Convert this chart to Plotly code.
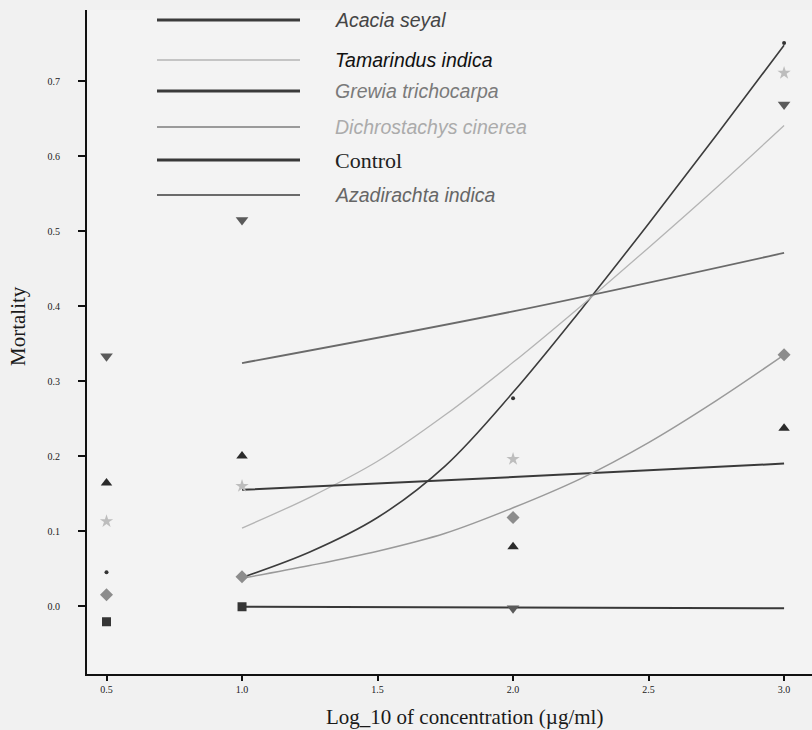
import plotly.graph_objects as go

# ---------------- data ----------------
species = ["Acacia seyal", "Tamarindus indica", "Grewia trichocarpa",
           "Dichrostachys cinerea", "Control", "Azadirachta indica"]

log_conc = [0.5, 1.0, 2.0, 3.0]

acacia_obs = [0.045, None, 0.277, 0.751]
tamarindus_obs = [0.113, 0.160, 0.196, 0.711]
grewia_obs = [0.164, 0.200, 0.079, 0.237]
dichro_obs = [0.015, 0.039, 0.118, 0.335]
control_obs = [-0.021, -0.001, None, None]
azadirachta_obs = [0.333, 0.515, -0.003, 0.669]

fit_x = [1.0, 1.25, 1.5, 1.75, 2.0, 2.25, 2.5, 2.75, 3.0]
acacia_fit = [0.038, 0.072, 0.118, 0.187, 0.285, 0.395, 0.510, 0.628, 0.748]
tamarindus_fit = [0.104, 0.145, 0.193, 0.255, 0.325, 0.400, 0.478, 0.558, 0.641]
dichro_fit = [0.037, 0.054, 0.073, 0.097, 0.131, 0.170, 0.218, 0.274, 0.335]

line_x = [1.0, 2.0, 3.0]
grewia_fit = [0.155, 0.172, 0.190]
control_fit = [-0.001, -0.002, -0.003]
azadirachta_fit = [0.324, 0.393, 0.471]

x_ticks = [0.5, 1.0, 1.5, 2.0, 2.5, 3.0]
x_tick_labels = ["0.5", "1.0", "1.5", "2.0", "2.5", "3.0"]
y_ticks = [0.0, 0.1, 0.2, 0.3, 0.4, 0.5, 0.6, 0.7]
y_tick_labels = ["0.0", "0.1", "0.2", "0.3", "0.4", "0.5", "0.6", "0.7"]

# ---------------- styles ----------------
obs = [acacia_obs, tamarindus_obs, grewia_obs, dichro_obs, control_obs, azadirachta_obs]
fits = [(fit_x, acacia_fit), (fit_x, tamarindus_fit), (line_x, grewia_fit),
        (fit_x, dichro_fit), (line_x, control_fit), (line_x, azadirachta_fit)]
line_colors = ["#3c3c3c", "#b4b4b4", "#3a3a3a", "#9a9a9a", "#383838", "#6a6a6a"]
line_widths = [1.6, 1.3, 2.0, 1.5, 2.0, 1.8]
leg_widths = [3.0, 1.5, 2.8, 1.8, 2.8, 2.2]
marker_symbols = ["circle", "star", "triangle-up", "diamond", "square", "triangle-down"]
marker_sizes = [4, 10, 10, 10, 9, 11]
marker_colors = ["#333333", "#bdbdbd", "#2a2a2a", "#8c8c8c", "#353535", "#5a5a5a"]
text_colors = ["#454545", "#111111", "#7a7a7a", "#ababab", "#222222", "#666666"]
text_italic = [True, True, True, True, False, True]
leg_y_px = [20, 60, 91, 127, 160, 195]

fig = go.Figure()
for i, name in enumerate(species):
    fx, fy = fits[i]
    fig.add_trace(go.Scatter(
        x=fx, y=fy, mode="lines", name=name, showlegend=False,
        line=dict(color=line_colors[i], width=line_widths[i], shape="spline", smoothing=1.0),
        hoverinfo="skip"))
for i, name in enumerate(species):
    fig.add_trace(go.Scatter(
        x=log_conc, y=obs[i], mode="markers", name=name, showlegend=False,
        marker=dict(symbol=marker_symbols[i], size=marker_sizes[i],
                    color=marker_colors[i], line=dict(width=0))))

W, H = 812, 730
ml, mr, mt, mb = 87, 0, 10, 56
pw, ph = W - ml - mr, H - mt - mb


def px_x(px):
    return (px - ml) / pw


def px_y(py):
    return 1 - (py - mt) / ph


shapes = []
annotations = []
for i, name in enumerate(species):
    yy = px_y(leg_y_px[i])
    shapes.append(dict(type="line", xref="paper", yref="paper",
                       x0=px_x(157), x1=px_x(300), y0=yy, y1=yy,
                       line=dict(color=line_colors[i], width=leg_widths[i])))
    txt = f"<i>{name}</i>" if text_italic[i] else name
    annotations.append(dict(
        xref="paper", yref="paper", x=px_x(333), y=yy, text=txt,
        showarrow=False, xanchor="left", yanchor="middle",
        font=dict(family="Liberation Serif" if not text_italic[i] else "Liberation Sans",
                  size=22 if not text_italic[i] else 19.5, color=text_colors[i])))

annotations.append(dict(xref="paper", yref="paper", x=px_x(464), y=px_y(717),
                        text="Log_10 of concentration (µg/ml)", showarrow=False,
                        xanchor="center", yanchor="middle",
                        font=dict(family="Liberation Serif", size=21, color="#1a1a1a")))
annotations.append(dict(xref="paper", yref="paper", x=px_x(18), y=px_y(326),
                        text="Mortality", showarrow=False, textangle=-90,
                        xanchor="center", yanchor="middle",
                        font=dict(family="Liberation Serif", size=21, color="#1a1a1a")))

fig.update_layout(
    width=W, height=H,
    margin=dict(l=ml, r=mr, t=mt, b=mb),
    paper_bgcolor="#f1f1f1", plot_bgcolor="#f3f3f3",
    showlegend=False,
    shapes=shapes, annotations=annotations,
    xaxis=dict(range=[0.428, 3.103], tickvals=x_ticks, ticktext=x_tick_labels,
               showgrid=False, zeroline=False, showline=True, linecolor="#111111",
               linewidth=2, ticks="outside", ticklen=5, tickwidth=1.5, tickcolor="#111111",
               tickfont=dict(family="Liberation Serif", size=10, color="#222222")),
    yaxis=dict(range=[-0.0907, 0.795], tickvals=y_ticks, ticktext=y_tick_labels,
               showgrid=False, zeroline=False, showline=True, linecolor="#111111",
               linewidth=2, ticks="outside", ticklen=7, tickwidth=1.5, tickcolor="#111111",
               ticklabelstandoff=16,
               tickfont=dict(family="Liberation Serif", size=10, color="#222222")),
)

fig.write_html("out.html", config={"displayModeBar": False},
               post_script="document.body.style.margin='0';")
